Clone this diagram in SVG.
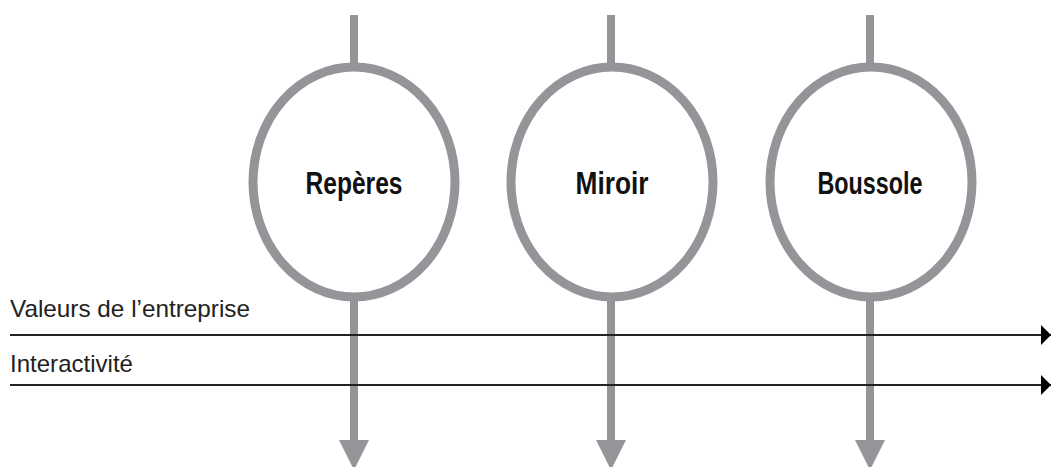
<svg xmlns="http://www.w3.org/2000/svg" width="1051" height="467" viewBox="0 0 1051 467">
<style>
.ring{fill:#fff;stroke:#939598;stroke-width:9}
.shaft{stroke:#939598;stroke-width:8;fill:none}
.head{fill:#939598}
.lbl{font-family:"Liberation Sans",Arial,sans-serif;font-weight:bold;font-size:31px;fill:#111;text-anchor:middle}
.axis{font-family:"Liberation Sans",Arial,sans-serif;font-size:24px;fill:#222}
.hl{stroke:#222;stroke-width:2;fill:none}
</style>
<defs>
<marker id="tri" markerWidth="10" markerHeight="20" refX="10" refY="10" orient="auto" markerUnits="userSpaceOnUse">
<path d="M0,0 L10,10 L0,20 Z" fill="#000"/>
</marker>
</defs>
<g id="connectors">
<line class="shaft" x1="354" y1="15" x2="354" y2="70"/>
<line class="shaft" x1="611" y1="15" x2="611" y2="70"/>
<line class="shaft" x1="870" y1="15" x2="870" y2="70"/>
<line class="shaft" x1="354" y1="295" x2="354" y2="445"/>
<line class="shaft" x1="611" y1="295" x2="611" y2="445"/>
<line class="shaft" x1="870" y1="295" x2="870" y2="445"/>
<path class="head" d="M339,440 L369,440 L354,470 Z"/>
<path class="head" d="M596,440 L626,440 L611,470 Z"/>
<path class="head" d="M855,440 L885,440 L870,470 Z"/>
<line class="hl" x1="10" y1="335" x2="1051" y2="335" marker-end="url(#tri)"/>
<line class="hl" x1="10" y1="385" x2="1051" y2="385" marker-end="url(#tri)"/>
</g>
<g id="reperes">
<ellipse class="ring" cx="354" cy="182" rx="101" ry="115"/>
<text class="lbl" x="354" y="194" textLength="97" lengthAdjust="spacingAndGlyphs">Repères</text>
</g>
<g id="miroir">
<ellipse class="ring" cx="612" cy="182" rx="101" ry="115"/>
<text class="lbl" x="612" y="194" textLength="73" lengthAdjust="spacingAndGlyphs">Miroir</text>
</g>
<g id="boussole">
<ellipse class="ring" cx="871" cy="182" rx="101" ry="115"/>
<text class="lbl" x="870" y="194" textLength="105" lengthAdjust="spacingAndGlyphs">Boussole</text>
</g>
<g id="axes">
<text class="axis" x="10" y="317" textLength="240" lengthAdjust="spacingAndGlyphs">Valeurs de l’entreprise</text>
<text class="axis" x="10" y="372" textLength="123" lengthAdjust="spacingAndGlyphs">Interactivité</text>
</g>
</svg>
